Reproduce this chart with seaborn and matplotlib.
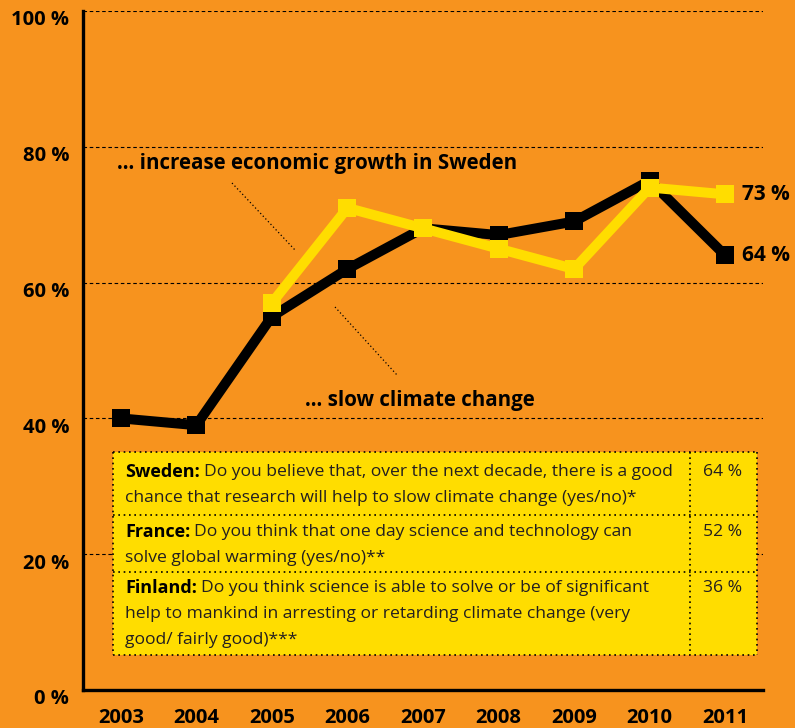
import matplotlib
matplotlib.use("Agg")
import matplotlib.pyplot as plt
import seaborn as sns
import pandas as pd
from matplotlib.patches import Rectangle
from matplotlib.lines import Line2D
from matplotlib.transforms import ScaledTranslation

# --- data -------------------------------------------------------------
years = [2003, 2004, 2005, 2006, 2007, 2008, 2009, 2010, 2011]
slow_climate = [40, 39, 55, 62, 68, 67, 69, 75, 64]
growth_years = [2005, 2006, 2007, 2008, 2009, 2010, 2011]
econ_growth = [57, 71, 68, 65, 62, 74, 73]
y_ticks = [0, 20, 40, 60, 80, 100]
y_tick_labels = ["0 %", "20 %", "40 %", "60 %", "80 %", "100 %"]

series_labels = ["... slow climate change", "... increase economic growth in Sweden"]

table_countries = ["Sweden:", "France:", "Finland:"]
table_questions = [
    ["Do you believe that, over the next decade, there is a good",
     "chance that research will help to slow climate change (yes/no)*"],
    ["Do you think that one day science and technology can",
     "solve global warming (yes/no)**"],
    ["Do you think science is able to solve or be of significant",
     "help to mankind in arresting or retarding climate change (very",
     "good/ fairly good)***"],
]
table_values = [64, 52, 36]

ORANGE = "#F7931E"
YELLOW = "#FFDD00"
INK = "#000000"
TXT = "#231F20"

sns.set_theme(style="white")
plt.rcParams["font.family"] = ["Open Sans", "DejaVu Sans"]

W, H = 795, 728
fig = plt.figure(figsize=(W / 100, H / 100), dpi=100, facecolor=ORANGE)


def fx(px):
    return px / W


def fy(py):
    return 1 - py / H


ax = fig.add_axes([fx(83), fy(690), fx(763) - fx(83), fy(11) - fy(690)])
ax.set_facecolor(ORANGE)

df_slow = pd.DataFrame({"year": years, "value": slow_climate})
df_growth = pd.DataFrame({"year": growth_years, "value": econ_growth})

line_kw = dict(linewidth=7.2, marker="s", markersize=13, markeredgewidth=0,
               legend=False, zorder=3)
sns.lineplot(data=df_slow, x="year", y="value", color=INK, ax=ax, **line_kw)
sns.lineplot(data=df_growth, x="year", y="value", color=YELLOW, ax=ax,
             **{**line_kw, "zorder": 4})

ax.set_xlim(2002.5, 2011.5)
ax.set_ylim(0, 100)
ax.set_xlabel("")
ax.set_ylabel("")

# grid lines
for v in y_ticks[1:]:
    ax.axhline(v, color=INK, lw=0.8, ls=(0, (3.2, 2.4)), zorder=1)

for side in ["top", "right"]:
    ax.spines[side].set_visible(False)
for side in ["left", "bottom"]:
    ax.spines[side].set_color(INK)
    ax.spines[side].set_linewidth(2.4)

ax.set_xticks(years)
ax.set_xticklabels([str(y) for y in years], fontsize=14.5, fontweight="bold",
                   color=INK)
ax.set_yticks(y_ticks)
ax.set_yticklabels(y_tick_labels, fontsize=14.5, fontweight="bold", color=INK)
ax.tick_params(axis="x", length=0, pad=13)
ax.tick_params(axis="y", length=0, pad=10)
for lab in ax.get_yticklabels():
    lab.set_transform(lab.get_transform() +
                      ScaledTranslation(0, -5 / 72, fig.dpi_scale_trans))

# end-of-line value labels
for xv, yv in [(growth_years[-1], econ_growth[-1]), (years[-1], slow_climate[-1])]:
    ax.annotate(f"{yv} %", xy=(xv, yv), xytext=(12, 0),
                textcoords="offset points", va="center", ha="left",
                fontsize=15, fontweight="bold", color=INK,
                annotation_clip=False)

# series captions with dotted leaders
fig.text(fx(117), fy(163), series_labels[1], fontsize=14.8, fontweight="bold",
         color=INK, va="center", ha="left")
fig.text(fx(305), fy(400), series_labels[0], fontsize=14.8, fontweight="bold",
         color=INK, va="center", ha="left")
for (x0, y0), (x1, y1) in [((232, 183), (295, 250)), ((335, 307), (397, 375))]:
    fig.add_artist(Line2D([fx(x0), fx(x1)], [fy(y0), fy(y1)], color=INK,
                          lw=0.9, ls=(0, (1, 2))))

# question table
tx0, tx1, ty0, ty1 = 113, 757, 452, 655
col_x = 690
row_lines = [515, 572]
fig.add_artist(Rectangle((fx(tx0), fy(ty1)), fx(tx1) - fx(tx0),
                         fy(ty0) - fy(ty1), facecolor=YELLOW, edgecolor="none",
                         zorder=5))
dot = dict(color=INK, lw=1.2, ls=(0, (1, 2.2)), zorder=6)
for yy in [ty0, ty1] + row_lines:
    fig.add_artist(Line2D([fx(tx0), fx(tx1)], [fy(yy), fy(yy)], **dot))
for xx in [tx0, col_x, tx1]:
    fig.add_artist(Line2D([fx(xx), fx(xx)], [fy(ty0), fy(ty1)], **dot))

row_first_line = [472, 532, 588]
line_step = 26
txt_size = 12.6
for country, lines, first_y, val in zip(table_countries, table_questions,
                                        row_first_line, table_values):
    bold = fig.text(fx(125), fy(first_y), country, fontsize=txt_size + 0.4,
                    fontweight="bold", color=INK, va="center", ha="left",
                    zorder=7)
    fig.canvas.draw()
    ext = bold.get_window_extent()
    fig.text((ext.x1 + 4) / W, fy(first_y), lines[0], fontsize=txt_size,
             color=TXT, va="center", ha="left", zorder=7)
    for i, ln in enumerate(lines[1:], start=1):
        fig.text(fx(125), fy(first_y + i * line_step), ln, fontsize=txt_size,
                 color=TXT, va="center", ha="left", zorder=7)
    fig.text(fx(723), fy(first_y), f"{val} %", fontsize=txt_size, color=TXT,
             va="center", ha="center", zorder=7)

fig.savefig("out.png", dpi=100, facecolor=ORANGE)
